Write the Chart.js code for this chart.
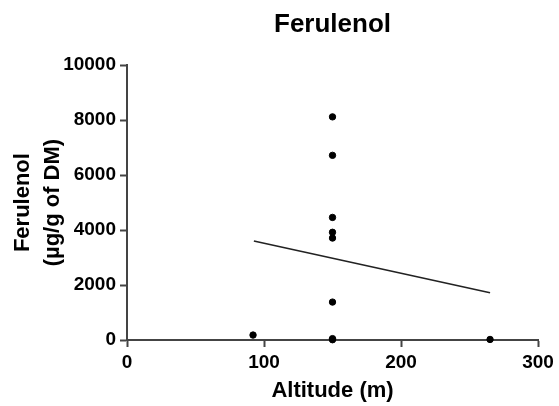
<!DOCTYPE html>
<html>
<head>
<meta charset="utf-8">
<script src="https://cdn.jsdelivr.net/npm/chart.js@4/dist/chart.umd.min.js"></script>
<style>
  html, body { margin: 0; padding: 0; background: #fff; }
  #wrap { width: 559px; height: 406px; position: relative; }
</style>
</head>
<body>
<div id="wrap"><canvas id="chart"></canvas></div>
<script>
// Puntos medidos (altitud en m, ferulenol en µg/g)
const altitude = [92, 150, 150, 150, 150, 150, 150, 150, 150, 265];
const ferulenol = [180, 8120, 6720, 4460, 3920, 3710, 1380, 50, 10, 20];

// Recta de regresión (extremos)
const fitAltitude = [92.6, 265];
const fitFerulenol = [3600, 1720];

const chartTitle = 'Ferulenol';
const xTitle = 'Altitude (m)';
const yTitle = ['Ferulenol', '(µg/g of DM)'];

const axisColor = '#444';
const fontFamily = '"Liberation Sans", Arial, Helvetica, sans-serif';

const points = altitude.map((x, i) => ({ x: x, y: ferulenol[i] }));
const fitLine = fitAltitude.map((x, i) => ({ x: x, y: fitFerulenol[i] }));

const ctx = document.getElementById('chart').getContext('2d');

new Chart(ctx, {
    type: 'scatter',
    data: {
        datasets: [{
            data: points,
            backgroundColor: '#000',
            borderColor: '#000',
            pointRadius: 3.2,
            pointHoverRadius: 3.2,
            clip: false
        }, {
            type: 'line',
            data: fitLine,
            borderColor: '#222',
            borderWidth: 1.6,
            pointRadius: 0,
            fill: false,
            clip: false
        }]
    },
    options: {
        responsive: true,
        maintainAspectRatio: false,
        animation: false,
        layout: {
            padding: { left: 0, right: 21, top: 0, bottom: 0 }
        },
        plugins: {
            legend: { display: false },
            tooltip: { enabled: false },
            title: {
                display: true,
                text: chartTitle,
                fullSize: false,
                color: '#000',
                font: { family: fontFamily, size: 26, weight: 'bold', lineHeight: 1.2 },
                padding: { top: 9, bottom: 25 }
            }
        },
        scales: {
            x: {
                type: 'linear',
                min: 0,
                max: 300,
                afterFit: function (scale) {
                    scale.height = 66;
                },
                border: { color: axisColor, width: 2 },
                grid: {
                    drawOnChartArea: false,
                    drawTicks: true,
                    tickLength: 7,
                    tickWidth: 2,
                    tickColor: axisColor
                },
                ticks: {
                    stepSize: 100,
                    padding: 4,
                    color: '#000',
                    font: { family: fontFamily, size: 19, weight: 'bold' },
                    callback: function (value) {
                        return String(value);
                    }
                },
                title: {
                    display: true,
                    text: xTitle,
                    color: '#000',
                    font: { family: fontFamily, size: 22, weight: 'bold', lineHeight: 1.2 },
                    padding: { top: 0, bottom: 2 }
                }
            },
            y: {
                type: 'linear',
                min: 0,
                max: 10000,
                afterFit: function (scale) {
                    scale.width = 127;
                },
                border: { color: axisColor, width: 2 },
                grid: {
                    drawOnChartArea: false,
                    drawTicks: true,
                    tickLength: 7,
                    tickWidth: 2,
                    tickColor: axisColor
                },
                ticks: {
                    stepSize: 2000,
                    padding: 4,
                    color: '#000',
                    font: { family: fontFamily, size: 19, weight: 'bold' },
                    // sin separador de miles, como en el original
                    callback: function (value) {
                        return String(value);
                    }
                },
                title: {
                    display: true,
                    text: yTitle,
                    color: '#000',
                    font: { family: fontFamily, size: 22, weight: 'bold', lineHeight: 1.36 },
                    padding: { top: 8, bottom: 0 }
                }
            }
        }
    }
});
</script>
</body>
</html>
